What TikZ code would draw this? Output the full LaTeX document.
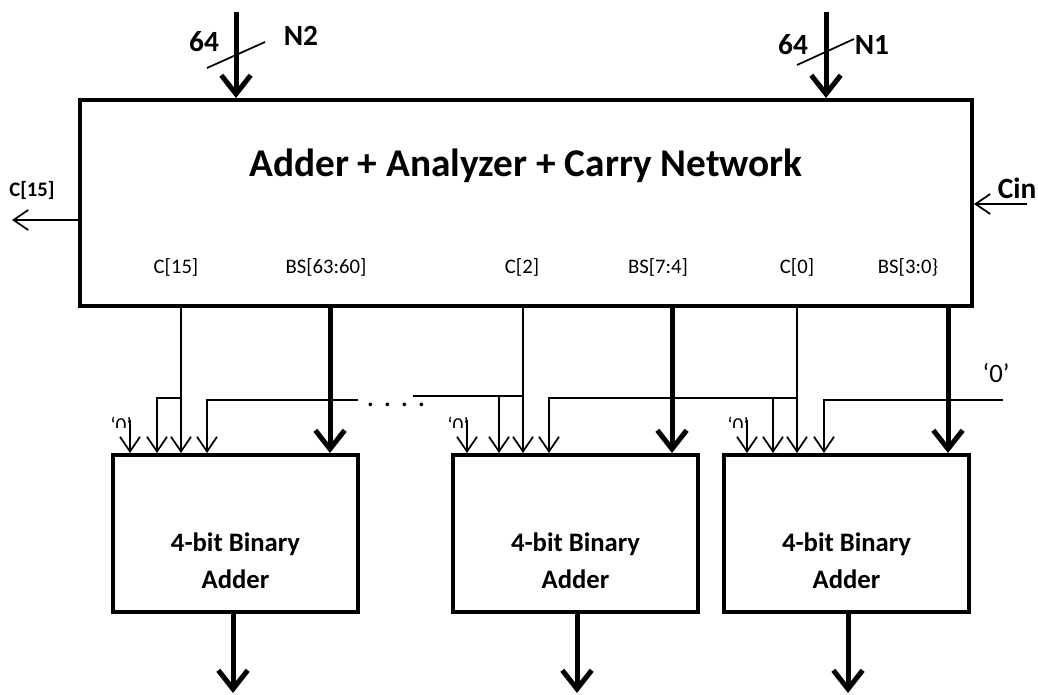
\documentclass[tikz,border=0pt]{standalone}
\usepackage{fontspec}
\setmainfont{Carlito}
\usetikzlibrary{arrows.meta,positioning}
\tikzset{blk/.style={draw,line width=3pt,inner sep=0pt,minimum width=#1,minimum height=117.75pt},
  blk/.default=183.75pt,
  lbl/.style={font=\fontsize{15.5}{18}\selectfont,inner sep=0pt},
  blbl/.style={font=\bfseries\fontsize{22}{26}\selectfont,inner sep=0pt},
  wire/.style={line width=1.3pt,-{Straight Barb[length=11pt,width=15pt]}},
  bus/.style={line width=3.75pt,-{Straight Barb[length=14pt,width=22pt]}},
  tick/.style={line width=1.3pt}}

\begin{document}
\begin{tikzpicture}[x=0.75pt,y=-0.75pt]
\useasboundingbox (0,0) rectangle (1038,695);
% main block
\node[blk=669pt,minimum height=154.5pt] (net) at (526,203) {};
\node[font=\bfseries\fontsize{29.5}{35}\selectfont,inner sep=0pt] (title) at (526,166) {Adder + Analyzer + Carry Network};
\node[lbl] (l1) at (176,267) {C[15]};
\node[lbl] (l2) at (326,267) {BS[63:60]};
\node[lbl] (l3) at (522,267) {C[2]};
\node[lbl] (l4) at (658,267) {BS[7:4]};
\node[lbl] (l5) at (797,267) {C[0]};
\node[lbl] (l6) at (908,267) {BS[3:0\}};

% inputs N2, N1
\coordinate (n2) at (236,12);
\coordinate (n1) at (826,12);
\draw[bus] (n2) -- (net.north -| n2);
\draw[bus] (n1) -- (net.north -| n1);
\draw[tick] (207,68) -- (265,42);
\draw[tick] (797,65) -- (854,39);
\node[blbl] (w2) at (204,42) {64};
\node[blbl] (nn2) at (301,36) {N2};
\node[blbl] (w1) at (793,45) {64};
\node[blbl] (nn1) at (872,45) {N1};

% carry out / carry in
\coordinate (cout) at (12,220);
\coordinate (cin) at (1027,204);
\draw[wire] (net.west |- cout) -- (cout);
\draw[wire] (cin) -- (net.east |- cin);
\node[blbl,font=\bfseries\fontsize{15.5}{18}\selectfont] (lc15) at (32,190) {C[15]};
\node[blbl] (lcin) at (1017,188) {Cin};

% adders
\foreach \n/\x in {addA/235.5,addB/575.5,addC/846.5}{
  \node[blk] (\n) at (\x,533.5) {};
  \node[font=\bfseries\fontsize{20}{27.75}\selectfont,align=center,inner sep=0pt] (\n-t) at (\x,561) {4-bit Binary\\Adder};
}

\foreach \n/\x in {x1/130,x2/157,x3/181,x4/207,x5/473,x6/499,x7/523,x8/549,x9/749,x10/773,x11/797,x12/824,b1/330,b2/672,b3/948}
  \coordinate (\n) at (\x,0);

% sums
\draw[bus] (net.south -| b1) -- (addA.north -| b1);
\draw[bus] (net.south -| b2) -- (addB.north -| b2);
\draw[bus] (net.south -| b3) -- (addC.north -| b3);

% carries
\coordinate (jA) at (181,398);
\coordinate (jB) at (523,396);
\coordinate (jC) at (797,398);
\coordinate (dl) at (358,400);
\coordinate (dr) at (413,396);
\coordinate (zr) at (1003,400);
\draw[wire] (net.south -| x3) -- (addA.north -| x3);
\draw[wire] (jA) -| (addA.north -| x2);
\draw[wire] (dl) -| (addA.north -| x4);
\draw[wire] (net.south -| x7) -- (addB.north -| x7);
\draw[tick] (dr) -- (jB);
\draw[wire] (dr) -| (addB.north -| x6);
\draw[wire] (jC) -| (addB.north -| x8);
\draw[wire] (net.south -| x11) -- (addC.north -| x11);
\draw[wire] (jC) -| (addC.north -| x10);
\draw[wire] (zr) -| (addC.north -| x12);
\node[font=\fontsize{23}{25}\selectfont,inner sep=0pt] (dots) at (396,405) {. . . .};
\node[font=\fontsize{20}{24}\selectfont,inner sep=0pt] (z0) at (996,373) {‘0’};

% constant zero carry-ins
\foreach \n/\x/\a in {zA/121/addA,zB/458/addB,zC/738/addC}{
  \draw[wire] (\x+9,420) -- (\a.north -| {\x+9},0);
  \begin{scope}
    \clip (\x-15,405) rectangle (\x+15,427);
    \node[font=\fontsize{16}{18}\selectfont,inner sep=0pt] (\n) at (\x,425) {‘0’};
  \end{scope}
}

% outputs
\coordinate (oA) at (233,693);
\coordinate (oB) at (577,693);
\coordinate (oC) at (848,693);
\draw[bus] (addA.south -| oA) -- (oA);
\draw[bus] (addB.south -| oB) -- (oB);
\draw[bus] (addC.south -| oC) -- (oC);
\end{tikzpicture}
\end{document}
